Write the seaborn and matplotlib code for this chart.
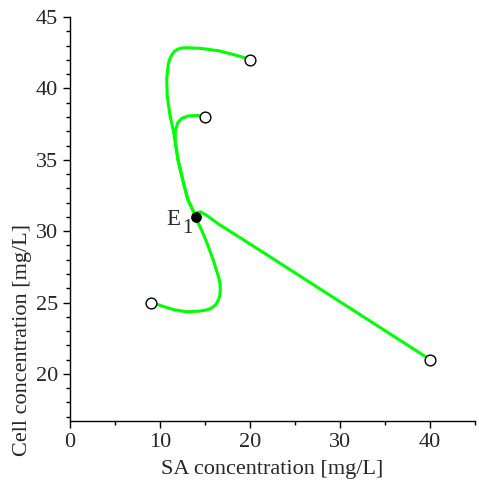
import matplotlib
matplotlib.use("Agg")
import matplotlib.pyplot as plt
import seaborn as sns
import pandas as pd
from matplotlib.ticker import MultipleLocator

sns.set_style("ticks")
plt.rcParams["font.family"] = ["Liberation Serif", "DejaVu Serif"]

# Trajectories in the (SA, cell) phase plane, each ending at the equilibrium E1
traj1_sa = [20.0, 19.4, 18.0, 16.5, 14.6, 13.1, 12.5, 12.0, 11.6, 11.3, 11.05, 10.9,
            10.75, 10.8, 11.1, 11.5, 11.75, 12.0, 12.6, 13.1, 13.7, 14.0]
traj1_cell = [42.0, 42.15, 42.4, 42.64, 42.8, 42.85, 42.84, 42.76, 42.6, 42.34, 42.0, 41.6,
              40.7, 39.5, 38.15, 37.0, 36.0, 35.0, 33.4, 32.2, 31.4, 31.0]

traj2_sa = [15.0, 14.3, 13.15, 12.4, 11.96, 11.7, 11.7, 12.0, 12.6, 13.1, 13.7, 14.0]
traj2_cell = [38.0, 38.1, 38.08, 37.9, 37.57, 37.0, 36.2, 35.0, 33.4, 32.2, 31.4, 31.0]

traj3_sa = [9.0, 10.0, 11.5, 12.96, 14.44, 15.2, 15.7, 16.2, 16.5, 16.65, 16.7, 16.65,
            16.5, 15.9, 15.2, 14.6, 14.15, 14.0]
traj3_cell = [25.0, 24.8, 24.5, 24.35, 24.4, 24.48, 24.6, 24.85, 25.2, 25.5, 25.9, 26.4,
              26.8, 28.0, 29.2, 30.1, 30.7, 31.0]

traj4_sa = [40.0, 30.0, 20.0, 16.5, 15.2, 14.5, 14.1, 14.0]
traj4_cell = [21.0, 25.05, 29.1, 30.5, 31.1, 31.35, 31.3, 31.0]

start_sa = [20.0, 15.0, 9.0, 40.0]
start_cell = [42.0, 38.0, 25.0, 21.0]

eq_sa = [14.0]
eq_cell = [31.0]

fig = plt.figure(figsize=(4.79, 4.82), dpi=100)
ax = fig.add_axes([0.146, 0.1266, 0.846, 0.838])

for xs, ys in [(traj1_sa, traj1_cell), (traj2_sa, traj2_cell),
               (traj3_sa, traj3_cell), (traj4_sa, traj4_cell)]:
    df = pd.DataFrame({"sa": xs, "cell": ys})
    sns.lineplot(data=df, x="sa", y="cell", sort=False, estimator=None,
                 color="#00ff00", linewidth=2.2, ax=ax,
                 solid_capstyle="round", solid_joinstyle="round")

sns.scatterplot(x=start_sa, y=start_cell, s=60, facecolor="white",
                edgecolor="black", linewidth=1.0, ax=ax, zorder=5)
sns.scatterplot(x=eq_sa, y=eq_cell, s=60, color="black",
                linewidth=0, ax=ax, zorder=6)

# "E" with its subscript "1" to the left of the equilibrium point
ax.text(eq_sa[0] - 1.8, eq_cell[0] - 0.57, "E", fontsize=16.5,
        ha="right", va="baseline")
ax.text(eq_sa[0] - 1.56, eq_cell[0] - 1.13, "1", fontsize=15,
        ha="left", va="baseline")

ax.set_xlim(0, 45)
ax.set_ylim(16.7, 45)
ax.xaxis.set_major_locator(MultipleLocator(10))
ax.xaxis.set_minor_locator(MultipleLocator(5))
ax.yaxis.set_major_locator(MultipleLocator(5))
ax.yaxis.set_minor_locator(MultipleLocator(1))
ax.tick_params(axis="both", which="major", labelsize=16, length=5,
               width=1.0, color="black", direction="out")
ax.tick_params(axis="both", which="minor", length=3, width=1.0, color="black")
ax.set_xlabel("SA concentration [mg/L]", fontsize=16, labelpad=6)
ax.set_ylabel("Cell concentration [mg/L]", fontsize=16)
ax.yaxis.set_label_coords(-0.094, 0.20)
for side in ["top", "right"]:
    ax.spines[side].set_visible(False)
for side in ["left", "bottom"]:
    ax.spines[side].set_color("black")
    ax.spines[side].set_linewidth(1.0)

fig.savefig("out.png", dpi=100)
